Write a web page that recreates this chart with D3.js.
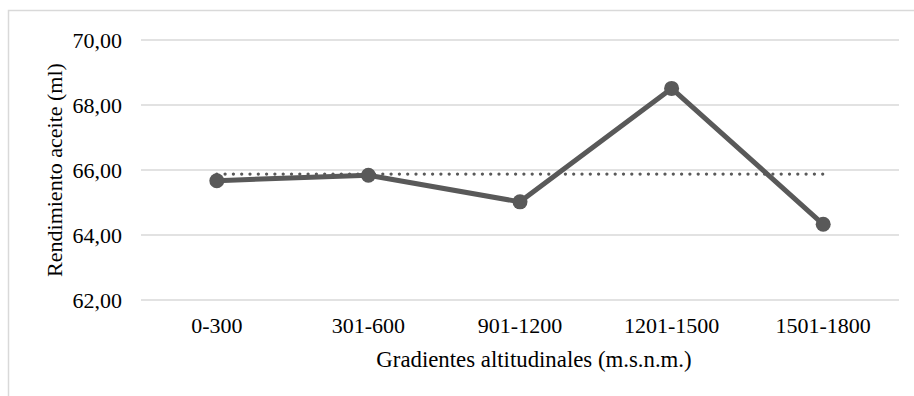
<!DOCTYPE html>
<html>
<head>
<meta charset="utf-8">
<script src="https://cdn.jsdelivr.net/npm/d3@7"></script>
<style>
  body { margin: 0; background: #fff; }
</style>
</head>
<body>
<div class="canvas"></div>
<script>
const categories = ['0-300', '301-600', '901-1200', '1201-1500', '1501-1800'];
const values = [65.67, 65.84, 65.02, 68.51, 64.33];
const yTicks = [62, 64, 66, 68, 70];

const FONT = '"Liberation Serif"';
const FS = '22px';

const width = 914, height = 396;
const margin = { top: 40, right: 15, bottom: 96, left: 141 };
const graphWidth = width - margin.left - margin.right;
const graphHeight = height - margin.top - margin.bottom;

const svg = d3.select('.canvas').append('svg')
    .attr('width', width)
    .attr('height', height);

// outer frame (only top + left edges show)
svg.append('path')
    .attr('d', `M8.5,${height} V10.5 H${width}`)
    .attr('fill', 'none')
    .attr('stroke', '#d9d9d9')
    .attr('stroke-width', 1.5);

const graph = svg.append('g')
    .attr('transform', `translate(${margin.left}, ${margin.top})`);

// scales
const x = d3.scaleBand().domain(categories).range([0, graphWidth]);
const y = d3.scaleLinear().domain([62, 70]).range([graphHeight, 0]);

// gridlines
graph.append('g')
    .selectAll('line')
    .data(yTicks)
    .enter().append('line')
    .attr('x1', 0).attr('x2', graphWidth)
    .attr('y1', d => y(d)).attr('y2', d => y(d))
    .attr('stroke', '#d9d9d9')
    .attr('stroke-width', 1.5);

// axes
const yAxis = d3.axisLeft(y)
    .tickValues(yTicks)
    .tickSize(0)
    .tickPadding(19)
    .tickFormat(d => d3.format('.2f')(d).replace('.', ','));

const yAxisGroup = graph.append('g').call(yAxis);
yAxisGroup.select('.domain').remove();
yAxisGroup.selectAll('text')
    .style('font-family', FONT).style('font-size', FS).attr('fill', '#000');

const xAxis = d3.axisBottom(x).tickSize(0).tickPadding(17);
const xAxisGroup = graph.append('g')
    .attr('transform', `translate(0, ${graphHeight})`)
    .call(xAxis);
xAxisGroup.select('.domain').remove();
xAxisGroup.selectAll('text')
    .style('font-family', FONT).style('font-size', FS).attr('fill', '#000');

// mean line (dotted)
const mean = d3.mean(values);
graph.append('line')
    .attr('x1', x(categories[0]) + x.bandwidth() / 2)
    .attr('x2', x(categories[categories.length - 1]) + x.bandwidth() / 2)
    .attr('y1', y(mean)).attr('y2', y(mean))
    .attr('stroke', '#595959')
    .attr('stroke-width', 3.3)
    .attr('stroke-linecap', 'round')
    .attr('stroke-dasharray', '0 8.3');

// series line
const line = d3.line()
    .x((d, i) => x(categories[i]) + x.bandwidth() / 2)
    .y(d => y(d));

graph.append('path')
    .datum(values)
    .attr('d', line)
    .attr('fill', 'none')
    .attr('stroke', '#595959')
    .attr('stroke-width', 5)
    .attr('stroke-linejoin', 'round');

graph.selectAll('circle.pt')
    .data(values)
    .enter().append('circle')
    .attr('class', 'pt')
    .attr('cx', (d, i) => x(categories[i]) + x.bandwidth() / 2)
    .attr('cy', d => y(d))
    .attr('r', 7.5)
    .attr('fill', '#595959');

// axis titles
svg.append('text')
    .attr('x', 534)
    .attr('y', 367)
    .attr('text-anchor', 'middle')
    .style('font-family', FONT)
    .style('font-size', '22.8px')
    .text('Gradientes altitudinales (m.s.n.m.)');

svg.append('text')
    .attr('transform', `translate(62, 170) rotate(-90)`)
    .attr('text-anchor', 'middle')
    .style('font-family', FONT)
    .style('font-size', FS)
    .text('Rendimiento aceite (ml)');
</script>
</body>
</html>
